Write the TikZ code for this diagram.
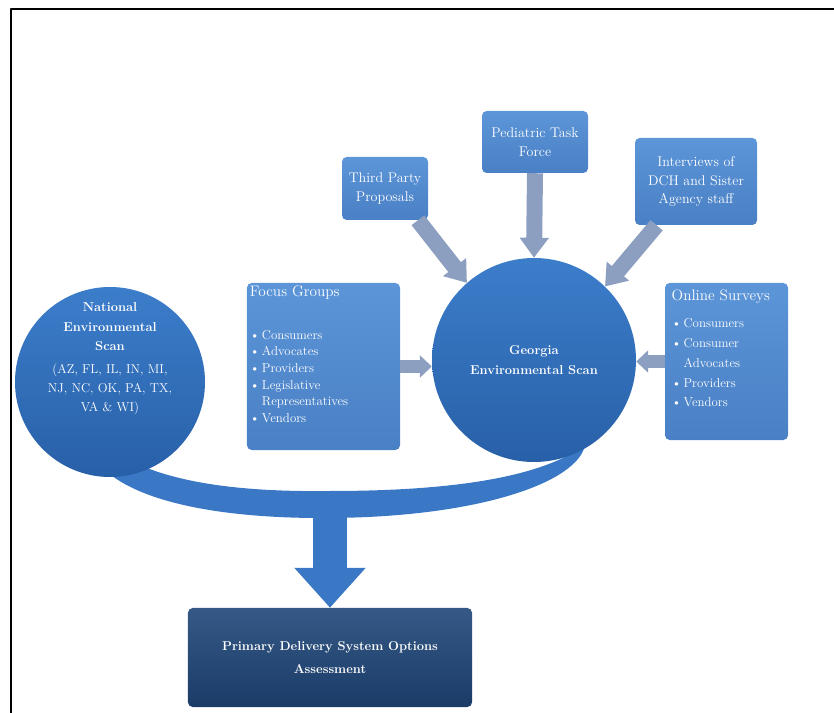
\documentclass[tikz,border=0pt]{standalone}
\usetikzlibrary{arrows.meta}
\definecolor{boxtop}{HTML}{5C95D8}
\definecolor{boxbot}{HTML}{4A80C5}
\definecolor{circtop}{HTML}{3C7DCA}
\definecolor{circbot}{HTML}{2860A8}
\definecolor{bandblue}{HTML}{3A78C6}
\definecolor{arrgray}{HTML}{8C9FC0}
\definecolor{navy}{HTML}{1F4679}
\begin{document}
\begin{tikzpicture}[x=0.03cm, y=-0.03cm, line join=round,
  box/.style={rectangle, rounded corners=4pt, top color=boxtop, bottom color=boxbot, text=white, inner sep=0pt},
  circ/.style={circle, top color=circtop, bottom color=circbot, text=white, inner sep=0pt, align=center},
  inarrow/.style={arrgray, line width=0.48cm, -{Triangle[length=0.6cm, width=0.84cm]}},
  sidearrow/.style={arrgray, line width=0.39cm, -{Triangle[length=0.36cm, width=0.66cm]}},
  bigarrow/.style={bandblue, line width=1.02cm, -{Triangle[length=1.2cm, width=2.07cm]}}]
\useasboundingbox (0,0) rectangle (834,713);
\draw[line width=1.6pt] (11,713) -- (11,9) -- (834,9);
% band joining the two scans
\fill[bandblue] (120,455) .. controls (170,485) and (250,492) .. (330,491)
  .. controls (430,491) and (535,482) .. (585,445)
  .. controls (578,482) and (480,517) .. (330,518)
  .. controls (200,519) and (110,495) .. (90,450) -- cycle;
\coordinate (bandlow) at (330,505);
% scans
\node[circ, minimum size=5.7cm] (nat) at (110,382) {};
\node[text=white, align=center, font=\fontsize{11}{16.5}\selectfont] (nattext) at (110,359)
  {\textbf{National}\\\textbf{Environmental}\\\textbf{Scan}\\[3pt](AZ, FL, IL, IN, MI,\\NJ, NC, OK, PA, TX,\\VA \& WI)};
\node[circ, minimum size=6.12cm, font=\bfseries\fontsize{11}{17}\selectfont] (geo) at (534,360) {Georgia\\Environmental Scan};
% inputs
\node[box, align=center, font=\fontsize{12}{16}\selectfont, minimum width=2.58cm, minimum height=1.89cm] (third) at (385,188.5) {Third Party\\Proposals};
\node[box, align=center, font=\fontsize{12}{16}\selectfont, minimum width=3.18cm, minimum height=1.86cm] (pediatric) at (535,142) {Pediatric Task\\Force};
\node[box, align=center, font=\fontsize{12}{16}\selectfont, minimum width=3.66cm, minimum height=2.61cm] (interviews) at (696,181.5) {Interviews of\\DCH and Sister\\Agency staff};
\node[box, inner sep=0.09cm] (focus) at (323.5,366.5) {\begin{minipage}[t][4.83cm][t]{4.41cm}\parindent=0pt\fontsize{11}{14.2}\selectfont
  {\fontsize{13}{15}\selectfont Focus Groups\par}\vspace{22pt}
  \textbullet\,Consumers\par
  \textbullet\,Advocates\par
  \textbullet\,Providers\par
  \textbullet\,Legislative\par
  \hphantom{\textbullet\,}Representatives\par
  \textbullet\,Vendors
  \end{minipage}};
\node[box, inner sep=0.2cm] (online) at (726.5,361.5) {\begin{minipage}[t][4.31cm][t]{3.29cm}\parindent=0pt\fontsize{11}{17}\selectfont
  {\fontsize{13}{15}\selectfont Online Surveys\par}\vspace{6pt}
  \textbullet\,Consumers\par
  \textbullet\,Consumer\par
  \hphantom{\textbullet\,}Advocates\par
  \textbullet\,Providers\par
  \textbullet\,Vendors
  \end{minipage}};
\draw[inarrow] (third.-44) -- (geo.131);
\draw[inarrow] (pediatric.south) -- (geo.north);
\draw[inarrow] (interviews.-132) -- (geo.46);
\draw[sidearrow] (focus.east) -- (focus.east -| geo.west);
\draw[sidearrow] (online.west) -- (online.west -| geo.east);
% result
\node[rectangle, rounded corners=4pt, top color=navy!90!white, bottom color=navy!85!black, text=white, align=center,
  minimum width=8.52cm, minimum height=2.97cm, font=\bfseries\fontsize{11}{19}\selectfont] (prim) at (330,657.5)
  {Primary Delivery System Options\\Assessment};
\draw[bigarrow] (bandlow) -- (prim.north);
\end{tikzpicture}
\end{document}
